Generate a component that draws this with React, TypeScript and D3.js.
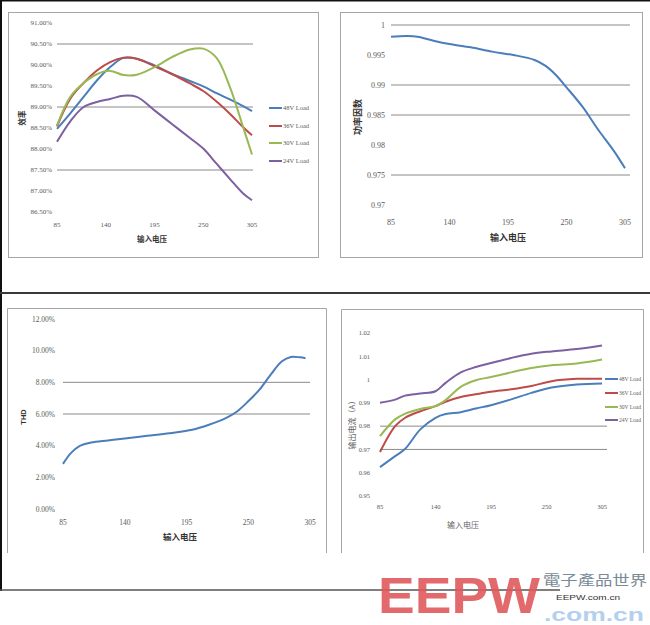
import React from "react";
import * as d3 from "d3";

// ---------- DATA ----------
const xTicks = [85, 140, 195, 250, 305];

// Chart 1: efficiency
const effVolt = [85, 100, 115, 130, 145, 160, 175, 195, 215, 235, 250, 265, 280, 295, 305];
const eff48 = [88.48, 88.85, 89.24, 89.63, 89.95, 90.17, 90.15, 89.99, 89.79, 89.62, 89.49, 89.33, 89.18, 89.02, 88.9];
const eff36 = [88.54, 89.2, 89.57, 89.87, 90.07, 90.17, 90.15, 89.97, 89.78, 89.56, 89.38, 89.13, 88.84, 88.52, 88.33];
const eff30 = [88.56, 89.24, 89.57, 89.78, 89.86, 89.76, 89.77, 89.95, 90.19, 90.37, 90.39, 90.17, 89.48, 88.52, 87.87];
const eff24 = [88.17, 88.66, 89.0, 89.12, 89.19, 89.27, 89.24, 88.92, 88.59, 88.26, 88.01, 87.65, 87.29, 86.94, 86.78];
const effTicks = [86.5, 87, 87.5, 88, 88.5, 89, 89.5, 90, 90.5, 91];
const effGrid = [87.5, 89, 90.5];

// Chart 2: power factor
const pfVolt = [85, 100, 110, 125, 140, 160, 180, 200, 220, 230, 240, 250, 265, 280, 295, 305];
const pfVals = [0.99806, 0.99817, 0.99806, 0.99739, 0.99683, 0.99628, 0.99556, 0.995, 0.99417, 0.99322, 0.99167, 0.98961, 0.98639, 0.9825, 0.97889, 0.97611];
const pfTicks = [0.97, 0.975, 0.98, 0.985, 0.99, 0.995, 1];
const pfTickLabels = ["0.97", "0.975", "0.98", "0.985", "0.99", "0.995", "1"];
const pfGrid = [0.975, 0.985, 0.99, 1];

// Chart 3: THD
const thdVolt = [85, 92, 100, 110, 125, 140, 160, 180, 200, 215, 230, 240, 250, 260, 270, 280, 288, 296, 301];
const thdVals = [2.85, 3.53, 3.99, 4.2, 4.33, 4.45, 4.62, 4.79, 5.0, 5.32, 5.74, 6.16, 6.8, 7.54, 8.49, 9.33, 9.6, 9.58, 9.52];
const thdTicks = [0, 2, 4, 6, 8, 10, 12];
const thdGrid = [6, 8];

// Chart 4: output current
const curVolt = [85, 100, 110, 125, 140, 150, 165, 180, 195, 215, 235, 255, 280, 305];
const cur48 = [0.9624, 0.9671, 0.9703, 0.9786, 0.9836, 0.9852, 0.986, 0.9876, 0.989, 0.9915, 0.9943, 0.9966, 0.9979, 0.9983];
const cur36 = [0.9689, 0.98, 0.9836, 0.9864, 0.9886, 0.9905, 0.9925, 0.9937, 0.9948, 0.9958, 0.9972, 0.9993, 1.0003, 1.0003];
const cur30 = [0.9757, 0.9829, 0.9854, 0.9874, 0.9886, 0.9912, 0.9969, 0.9997, 1.0011, 1.0031, 1.005, 1.0062, 1.0069, 1.0086];
const cur24 = [0.99, 0.9914, 0.9931, 0.994, 0.995, 0.9986, 1.0031, 1.0054, 1.0071, 1.0093, 1.0111, 1.0121, 1.0131, 1.0146];
const curTicks = [0.95, 0.96, 0.97, 0.98, 0.99, 1, 1.01, 1.02];
const curTickLabels = ["0.95", "0.96", "0.97", "0.98", "0.99", "1", "1.01", "1.02"];
const curGrid = [0.97, 0.98];

const loadNames = ["48V Load", "36V Load", "30V Load", "24V Load"];
const loadColors = ["#4A7EBB", "#BE4B48", "#98B954", "#7D60A0"];

// ---------- STYLE ----------
const tickFont = "'Liberation Serif', serif";
const cjkFont = "'Noto Sans CJK SC', sans-serif";
const gridColor = "#8a8a8a";
const borderColor = "#a6a6a6";
const tickColor = "#5a5a5a";

type Series = { xs: number[]; ys: number[]; color: string };

function Chart(props: {
  xRange: [number, number];
  yDomain: [number, number];
  yRange: [number, number];
  yTicks: number[];
  yLabels: string[];
  grid: number[];
  gridX2?: number;
  labelX: number;
  xLabelY: number;
  series: Series[];
  fontSize: number;
}) {
  const x = d3.scaleLinear().domain([85, 305]).range(props.xRange);
  const y = d3.scaleLinear().domain(props.yDomain).range(props.yRange);
  const gx2 = props.gridX2 ?? props.xRange[1];
  return (
    <g>
      {props.grid.map((g, i) => (
        <line key={"g" + i} x1={props.xRange[0]} x2={gx2} y1={y(g)} y2={y(g)} stroke={gridColor} strokeWidth={1} />
      ))}
      {props.yTicks.map((t, i) => (
        <text key={"y" + i} x={props.labelX} y={y(t)} dy="0.35em" textAnchor="end" fontSize={props.fontSize} fontFamily={tickFont} fill={tickColor}>
          {props.yLabels[i]}
        </text>
      ))}
      {xTicks.map((t, i) => (
        <text key={"x" + i} x={x(t)} y={props.xLabelY} dy="0.35em" textAnchor="middle" fontSize={props.fontSize} fontFamily={tickFont} fill={tickColor}>
          {t}
        </text>
      ))}
      {props.series.map((s, i) => {
        const line = d3
          .line<number>()
          .x((_, j) => x(s.xs[j]))
          .y((v) => y(v))
          .curve(d3.curveCatmullRom.alpha(0.5));
        return <path key={"s" + i} d={line(s.ys) || ""} fill="none" stroke={s.color} strokeWidth={2} strokeLinejoin="round" />;
      })}
    </g>
  );
}

function Legend(props: { x: number; ys: number[]; fontSize: number }) {
  return (
    <g>
      {loadNames.map((n, i) => (
        <g key={n}>
          <line x1={props.x} x2={props.x + 13} y1={props.ys[i]} y2={props.ys[i]} stroke={loadColors[i]} strokeWidth={2} />
          <text x={props.x + 14} y={props.ys[i]} dy="0.35em" fontSize={props.fontSize} fontFamily={tickFont} fill={tickColor}>
            {n}
          </text>
        </g>
      ))}
    </g>
  );
}

export default function App() {
  const pct = (v: number) => v.toFixed(2) + "%";
  return (
    <svg width={650} height={625} style={{ position: "absolute", left: 0, top: 0, background: "#fff" }}>
      <rect x={0} y={0} width={650} height={625} fill="#fff" />
      {/* outer frame lines */}
      <line x1={0} x2={650} y1={0.5} y2={0.5} stroke="#111" strokeWidth={2} />
      <line x1={1} x2={1} y1={0} y2={591} stroke="#111" strokeWidth={2} />
      <line x1={0} x2={650} y1={293} y2={293} stroke="#3a3a3a" strokeWidth={2} />
      <line x1={0} x2={560} y1={590} y2={590} stroke="#555" strokeWidth={1.5} />

      {/* panel borders */}
      <rect x={8.5} y={12.5} width={310} height={245} fill="none" stroke={borderColor} />
      <rect x={340.5} y={12.5} width={302} height={245} fill="none" stroke={borderColor} />
      <path d="M7.5,553 V308.5 H326.5 V553" fill="none" stroke={borderColor} />
      <path d="M341.5,553 V309.5 H643.5 V553" fill="none" stroke={borderColor} />

      {/* Chart 1: efficiency */}
      <Chart
        xRange={[57, 252]}
        yDomain={[86.5, 91]}
        yRange={[212, 23]}
        yTicks={effTicks}
        yLabels={effTicks.map(pct)}
        grid={effGrid}
        gridX2={253}
        labelX={52}
        xLabelY={225}
        fontSize={7}
        series={[
          { xs: effVolt, ys: eff48, color: loadColors[0] },
          { xs: effVolt, ys: eff36, color: loadColors[1] },
          { xs: effVolt, ys: eff30, color: loadColors[2] },
          { xs: effVolt, ys: eff24, color: loadColors[3] },
        ]}
      />
      <Legend x={269} ys={[108, 126, 143, 161]} fontSize={6.5} />
      <text x={152} y={239} dy="0.35em" textAnchor="middle" fontSize={7.5} fontWeight="bold" fontFamily={cjkFont} fill="#333">输入电压</text>
      <text transform="translate(22,118) rotate(-90)" dy="0.35em" textAnchor="middle" fontSize={7.5} fontWeight="bold" fontFamily={cjkFont} fill="#333">效率</text>

      {/* Chart 2: power factor */}
      <Chart
        xRange={[391, 625]}
        yDomain={[0.97, 1]}
        yRange={[205, 25]}
        yTicks={pfTicks}
        yLabels={pfTickLabels}
        grid={pfGrid}
        gridX2={630}
        labelX={385}
        xLabelY={222}
        fontSize={8}
        series={[{ xs: pfVolt, ys: pfVals, color: loadColors[0] }]}
      />
      <text x={508} y={238} dy="0.35em" textAnchor="middle" fontSize={9} fontWeight="bold" fontFamily={cjkFont} fill="#333">输入电压</text>
      <text transform="translate(358,117) rotate(-90)" dy="0.35em" textAnchor="middle" fontSize={9} fontWeight="bold" fontFamily={cjkFont} fill="#333">功率因数</text>

      {/* Chart 3: THD */}
      <Chart
        xRange={[63, 310]}
        yDomain={[0, 12]}
        yRange={[509, 319]}
        yTicks={thdTicks}
        yLabels={thdTicks.map(pct)}
        grid={thdGrid}
        gridX2={310}
        labelX={55}
        xLabelY={522}
        fontSize={7.5}
        series={[{ xs: thdVolt, ys: thdVals, color: loadColors[0] }]}
      />
      <text x={180} y={537} dy="0.35em" textAnchor="middle" fontSize={8.5} fontWeight="bold" fontFamily={cjkFont} fill="#333">输入电压</text>
      <text transform="translate(23,417) rotate(-90)" dy="0.35em" textAnchor="middle" fontSize={7.5} fontWeight="bold" fontFamily="'Liberation Sans', sans-serif" fill="#333">THD</text>

      {/* Chart 4: output current */}
      <Chart
        xRange={[380, 602]}
        yDomain={[0.95, 1.02]}
        yRange={[496, 333]}
        yTicks={curTicks}
        yLabels={curTickLabels}
        grid={curGrid}
        gridX2={607}
        labelX={370}
        xLabelY={507}
        fontSize={6.5}
        series={[
          { xs: curVolt, ys: cur48, color: loadColors[0] },
          { xs: curVolt, ys: cur36, color: loadColors[1] },
          { xs: curVolt, ys: cur30, color: loadColors[2] },
          { xs: curVolt, ys: cur24, color: loadColors[3] },
        ]}
      />
      <Legend x={605} ys={[379, 393, 407, 420]} fontSize={5.5} />
      <text x={463} y={525} dy="0.35em" textAnchor="middle" fontSize={8} fontFamily={cjkFont} fill="#666">输入电压</text>
      <text transform="translate(352,423) rotate(-90)" dy="0.35em" textAnchor="middle" fontSize={8} fontFamily={cjkFont} fill="#666">输出电流（A）</text>

      {/* logo */}
      <text x={378} y={613} fontSize={50} fontWeight="bold" fontFamily="'Liberation Sans', sans-serif" fill="#e05a5c" fillOpacity={0.9} textLength={162} lengthAdjust="spacingAndGlyphs">EEPW</text>
      <text x={544} y={621} fontSize={18} fontWeight="bold" fontFamily="'Liberation Sans', sans-serif" fill="#b3d0ee" textLength={100} lengthAdjust="spacingAndGlyphs">.com.cn</text>
      <text x={543} y={585} fontSize={14} fontFamily="'Noto Sans CJK TC', serif" fill="#7a8a96" textLength={104} lengthAdjust="spacingAndGlyphs">電子產品世界</text>
      <text x={556} y={600} fontSize={8} fontFamily="'Liberation Sans', sans-serif" fill="#333" textLength={64} lengthAdjust="spacingAndGlyphs">EEPW.com.cn</text>
    </svg>
  );
}
